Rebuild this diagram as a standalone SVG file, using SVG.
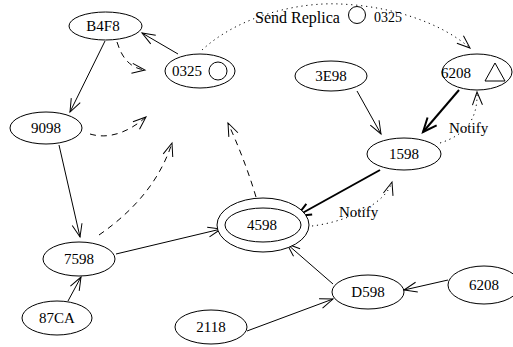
<svg xmlns="http://www.w3.org/2000/svg" width="513" height="347" viewBox="0 0 513 347">
<style>
.n ellipse,.n circle,.n polygon{fill:#fff;stroke:#000;stroke-width:1}
text{font-family:"Liberation Serif","Times New Roman",serif;font-size:15px;fill:#000;text-anchor:middle}
.lbl{font-size:15px;text-anchor:start}
.e{fill:none;stroke:#000;stroke-width:1}
.b{stroke-width:2}
.d{stroke-dasharray:6,5}
.o{stroke-dasharray:1.2,3.8}
</style>
<defs>
<marker id="a" markerUnits="userSpaceOnUse" markerWidth="16" markerHeight="12" refX="13" refY="5" orient="auto" overflow="visible">
<path d="M0,0 L13,5 L0,10" fill="none" stroke="#000" stroke-width="1" stroke-dasharray="none"/>
</marker>
<marker id="ab" markerUnits="userSpaceOnUse" markerWidth="18" markerHeight="14" refX="14" refY="6" orient="auto" overflow="visible">
<path d="M0,0 L14,6 L0,12" fill="none" stroke="#000" stroke-width="2" stroke-dasharray="none"/>
</marker>
</defs>
<g id="edges">
<path class="e" d="M178,54 L142,33" marker-end="url(#a)"/>
<path class="e" d="M105,41 L70,112" marker-end="url(#a)"/>
<path class="e d" d="M117,42 C122,58 130,68 145,70" marker-end="url(#a)"/>
<path class="e d" d="M90,134 C110,140 130,131 146,117" marker-end="url(#a)"/>
<path class="e d" d="M99,235 C135,210 160,180 172,143" marker-end="url(#a)"/>
<path class="e d" d="M256,197 C248,170 238,145 228,123" marker-end="url(#a)"/>
<path class="e" d="M59,145 L80,237" marker-end="url(#a)"/>
<path class="e" d="M68,301 L81,277" marker-end="url(#a)"/>
<path class="e" d="M116,254 L221,229" marker-end="url(#a)"/>
<path class="e b" d="M380,170 L297,216" marker-end="url(#ab)"/>
<path class="e b" d="M459,90 L423,132" marker-end="url(#ab)"/>
<path class="e" d="M357,91 L381,134" marker-end="url(#a)"/>
<path class="e o" d="M440,143 C465,135 478,120 477,92" marker-end="url(#a)"/>
<path class="e o" d="M312,226 C345,222 385,205 392,182" marker-end="url(#a)"/>
<path class="e" d="M247,331 L333,299" marker-end="url(#a)"/>
<path class="e" d="M333,284 L287,244" marker-end="url(#a)"/>
<path class="e" d="M448,280 L404,290" marker-end="url(#a)"/>
<path class="e o" d="M202,50 C240,15 300,2 340,4 C390,6 440,22 470,48" marker-end="url(#a)"/>
<text class="lbl" x="449" y="133">Notify</text>
<text class="lbl" x="339" y="217">Notify</text>
<text class="lbl" x="255" y="23" style="font-size:16px">Send Replica</text>
<circle cx="357" cy="15" r="8.5" fill="#fff" stroke="#000"/>
<text class="lbl" x="374" y="22" style="font-size:14px">0325</text>
</g>
<g id="B4F8" class="n"><ellipse cx="105.5" cy="26" rx="36.5" ry="14"/><text x="103" y="31">B4F8</text></g>
<g id="n0325" class="n"><ellipse cx="200" cy="71" rx="35" ry="17"/><text x="187" y="76">0325</text><circle cx="218" cy="71" r="9"/></g>
<g id="n9098" class="n"><ellipse cx="46" cy="128" rx="36" ry="16"/><text x="46" y="133">9098</text></g>
<g id="n7598" class="n"><ellipse cx="79" cy="259" rx="36" ry="17"/><text x="79" y="264">7598</text></g>
<g id="n87CA" class="n"><ellipse cx="57" cy="318" rx="35" ry="17"/><text x="57" y="323">87CA</text></g>
<g id="n2118" class="n"><ellipse cx="211" cy="327" rx="36" ry="17"/><text x="211" y="332">2118</text></g>
<g id="n4598" class="n"><ellipse cx="263" cy="225" rx="46" ry="27"/><ellipse cx="263" cy="225" rx="38" ry="17"/><text x="262" y="230">4598</text></g>
<g id="D598" class="n"><ellipse cx="368" cy="292" rx="36" ry="17"/><text x="368" y="297">D598</text></g>
<g id="n6208b" class="n"><ellipse cx="484" cy="285" rx="36" ry="19"/><text x="484" y="290">6208</text></g>
<g id="n3E98" class="n"><ellipse cx="331" cy="76" rx="36" ry="15"/><text x="331" y="81">3E98</text></g>
<g id="n6208t" class="n"><ellipse cx="477" cy="72" rx="35" ry="18"/><text x="456" y="78">6208</text><polygon points="495,63 485,81 505,81"/></g>
<g id="n1598" class="n"><ellipse cx="404" cy="154" rx="37" ry="16"/><text x="404" y="159">1598</text></g>
</svg>
